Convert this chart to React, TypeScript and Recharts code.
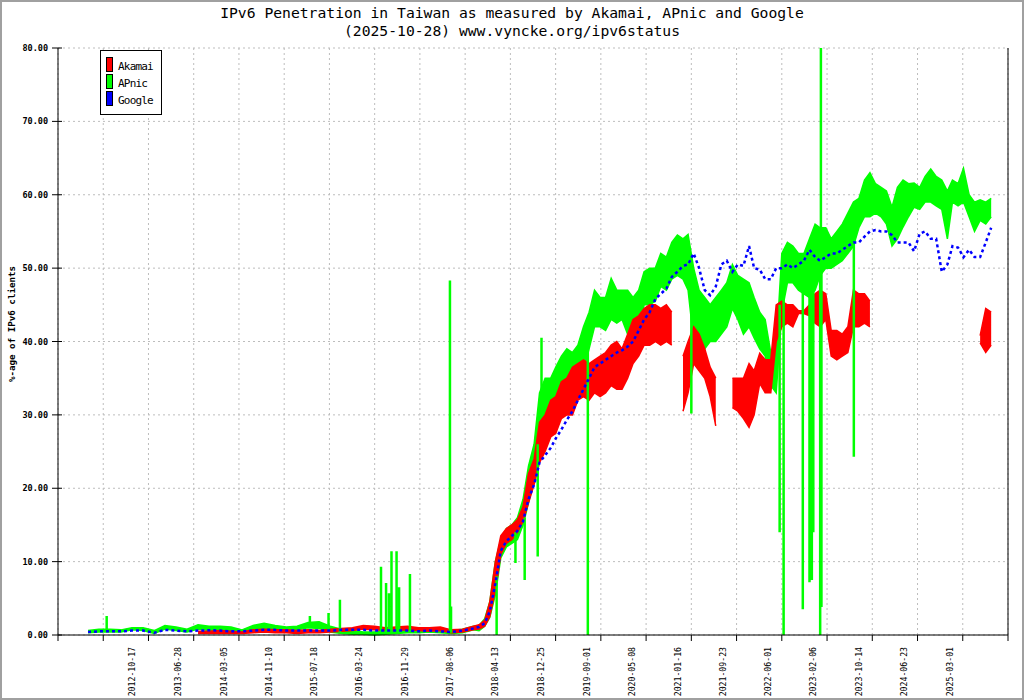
import React from "react";
import { Area, CartesianGrid, ComposedChart, Line, ReferenceLine, XAxis, YAxis } from "recharts";

// sample dates: every 2 months until 2017, monthly afterwards
const months = [
  "2012-02", "2012-04", "2012-06", "2012-08", "2012-10", "2012-12",
  "2013-02", "2013-04", "2013-06", "2013-08", "2013-10", "2013-12",
  "2014-02", "2014-04", "2014-06", "2014-08", "2014-10", "2014-12",
  "2015-02", "2015-04", "2015-06", "2015-08", "2015-10", "2015-12",
  "2016-02", "2016-04", "2016-06", "2016-08", "2016-10", "2016-12",
  "2017-02", "2017-04", "2017-06", "2017-08", "2017-10", "2017-12",
  "2018-01", "2018-02", "2018-03", "2018-04", "2018-05", "2018-06", "2018-07", "2018-08", "2018-09", "2018-10", "2018-11", "2018-12",
  "2019-01", "2019-02", "2019-03", "2019-04", "2019-05", "2019-06", "2019-07", "2019-08", "2019-09", "2019-10", "2019-11", "2019-12",
  "2020-01", "2020-02", "2020-03", "2020-04", "2020-05", "2020-06", "2020-07", "2020-08", "2020-09", "2020-10", "2020-11", "2020-12",
  "2021-01", "2021-02", "2021-03", "2021-04", "2021-05", "2021-06", "2021-07", "2021-08", "2021-09", "2021-10", "2021-11", "2021-12",
  "2022-01", "2022-02", "2022-03", "2022-04", "2022-05", "2022-06", "2022-07", "2022-08", "2022-09", "2022-10", "2022-11", "2022-12",
  "2023-01", "2023-02", "2023-03", "2023-04", "2023-05", "2023-06", "2023-07", "2023-08", "2023-09", "2023-10", "2023-11", "2023-12",
  "2024-01", "2024-02", "2024-03", "2024-04", "2024-05", "2024-06", "2024-07", "2024-08", "2024-09", "2024-10", "2024-11", "2024-12",
  "2025-01", "2025-02", "2025-03", "2025-04", "2025-05", "2025-06", "2025-07", "2025-08", "2025-09", "2025-10",
];

// APnic daily values swing a lot, so keep the low / high of each period
const apnicLow = [
  0.3, 0.4, 0.4, 0.4, 0.7, 0.6, 0.2, 0.8, 0.6, 0.4, 0.8, 0.6,
  0.7, 0.5, 0.3, 0.7, 0.9, 0.8, 0.6, 0.7, 1.0, 0.9, 0.4, 0.2,
  0.1, 0.1, 0.0, 0.1, 0.2, 0.3, 0.3, 0.4, 0.3, 0.2, 0.3, 0.7,
  0.6, 1.2, 2.4, 5.5, 10.5, 12, 12.5, 13, 15, 18, 21, 24,
  26, 28, 28, 31, 31, 32, 33, 36, 39, 42, 42, 41.5,
  43, 42.5, 43, 41, 40.5, 41, 45, 45, 45.5, 47.5, 47, 48.5,
  49, 48.5, 47, 40, 36, 39, 40, 40, 41, 42, 44.5, 43,
  41, 42, 40.5, 39, 38, 34, 33, 44, 48, 48, 47, 46.5,
  46, 47, 49, 50, 50, 50.5, 51, 52, 53, 55.5, 57, 57,
  57.5, 57, 56, 53, 54, 55.6, 57, 58.3, 58, 59, 59, 58.5,
  58, 54, 59, 58.5, 59, 57, 55, 56.5, 56, 57,
];
const apnicHigh = [
  0.6, 0.8, 0.8, 0.7, 1.0, 1.0, 0.6, 1.3, 1.1, 0.8, 1.4, 1.2,
  1.2, 1.1, 0.7, 1.3, 1.6, 1.3, 1.1, 1.2, 1.7, 1.8, 1.2, 0.8,
  0.6, 0.4, 0.4, 0.6, 0.7, 0.9, 0.8, 0.9, 0.8, 0.6, 0.8, 1.2,
  1.3, 2.2, 4.5, 10, 13, 14.5, 15, 16, 18.5, 23, 26, 33,
  35, 35, 36.5, 38, 39, 38.5, 39.5, 42, 44, 47, 46, 46,
  48.6, 47, 47, 47, 46, 47, 49.5, 50, 50, 52, 51.5, 53.5,
  54.5, 54, 54.6, 50, 47, 46, 45, 46, 47, 48, 50.5, 49,
  48.5, 48, 46, 44, 43, 38.5, 39, 52, 53.5, 53, 52, 52,
  54, 56, 55.5, 55.5, 54, 55, 56, 57.5, 59, 59.5, 62, 63,
  61.5, 61, 60.5, 58.3, 61, 62, 61.5, 61.6, 61, 62.5, 63.5, 62.5,
  62, 60.5, 62, 61.5, 63.6, 60, 59, 59.3, 59, 59.5,
];

const akamaiLow = [
  null, null, null, null, null, null, null, null, null, null, 0.2, 0.2,
  0.2, 0.2, 0.2, 0.3, 0.4, 0.3, 0.3, 0.2, 0.3, 0.3, 0.4, 0.5,
  0.6, 0.8, 0.7, 0.6, 0.6, 0.7, 0.6, 0.5, 0.6, 0.3, 0.4, 0.7,
  0.8, 1.2, 2.5, 6, 11, 12.5, 13, 14, 15.5, 18, 20.5, 23.5,
  25, 27, 27.5, 29.5, 30, 30, 32, 32.5, 32, 33, 32.5, 33,
  34, 33.5, 33.5, 35, 37, 38, 39.5, 39.5, 40, 39.5, 40, 39.5,
  null, 30.5, 33, 37, 36, 35, 32.5, 28.5, null, null, 31, 30.5,
  29.5, 28.3, 30, 34.3, 33, 33, 40, 42, 42.5, 42, 43.8, 43.8,
  43.5, 42.5, 42, 43, 38, 37.5, 38, 38.5, 42, 42, 42.5, 42,
  null, null, null, null, null, null, null, null, null, null, null, null,
  null, null, null, null, null, null, null, 39.8, 38.5, 39.5,
];
const akamaiHigh = [
  null, null, null, null, null, null, null, null, null, null, 0.5, 0.5,
  0.6, 0.5, 0.4, 0.7, 0.8, 0.7, 0.7, 0.6, 0.7, 0.6, 0.8, 0.9,
  1.0, 1.3, 1.2, 1.0, 1.1, 1.2, 1.0, 1.0, 1.1, 0.7, 0.8, 1.2,
  1.4, 2.0, 4.5, 10, 13.5, 14.5, 15, 15.7, 17.5, 22, 24, 29,
  30, 32, 32.5, 34.5, 35, 36.5, 37, 37.5, 37, 37.5, 38, 38.5,
  39.5, 40, 39, 41, 43, 43.5, 44.5, 45, 45, 44.5, 45, 44,
  null, 38, 40, 42, 41, 39, 36.5, 35, null, null, 35, 35,
  35, 37, 36, 38.4, 37.5, 37.5, 45, 45.5, 45, 45, 44.2, 44.2,
  45, 46.5, 47, 46.5, 41.5, 41.5, 41, 42, 47, 46.5, 46.5, 45.5,
  null, null, null, null, null, null, null, null, null, null, null, null,
  null, null, null, null, null, null, null, 40.8, 44.5, 44,
];

const google = [
  0.4, 0.5, 0.5, 0.5, 0.6, 0.6, 0.3, 0.7, 0.6, 0.5, 0.6, 0.65,
  0.6, 0.5, 0.5, 0.6, 0.7, 0.7, 0.6, 0.6, 0.6, 0.6, 0.6, 0.7,
  0.7, 0.7, 0.6, 0.6, 0.6, 0.6, 0.5, 0.6, 0.5, 0.4, 0.6, 0.9,
  1.1, 1.6, 3.2, 7, 11.5, 12.8, 13.5, 14.2, 15.5, 18.5, 20.5, 23.5,
  24.5, 25.5, 26.8, 28, 29.3, 30.5, 32, 33.5, 35, 36.5, 37, 37.5,
  38, 38.5, 38.8, 39.3, 40, 41.5, 43, 44, 45.8, 46.5, 47.2, 48.8,
  49.5, 50.3, 50.5, 52, 50, 47, 46.3, 47.5, 50.5, 51, 49.5, 50.5,
  50.3, 53, 50, 49.8, 48.5, 48.5, 50, 50, 50.5, 50, 50.5, 51,
  52.5, 51.5, 51, 51.5, 52, 52, 52.5, 53, 53.5, 53.5, 54.3, 55,
  55.2, 55, 55, 54.5, 53.5, 53.5, 53.5, 52.3, 54.7, 55, 54, 54,
  49.5, 50.5, 53, 52.8, 51.5, 52.5, 51.5, 51.5, 53.5, 55.5,
];

// single-day APnic outliers: level before the jump, value reached
const spikeDates = [
  "2012-05-28", "2015-06-25", "2015-10-06", "2015-12-08", "2016-07-22", "2016-08-19",
  "2016-09-04", "2016-09-18", "2016-10-16", "2016-10-30", "2016-12-29", "2017-08-07",
  "2017-08-13", "2018-04-22", "2018-08-04", "2018-09-24", "2018-12-05", "2018-12-26",
  "2019-09-08", "2021-04-02", "2022-08-03", "2022-08-25", "2022-12-09", "2023-01-15",
  "2023-01-28", "2023-02-05", "2023-03-15", "2023-03-19", "2023-03-22", "2023-09-17",
];
const spikeFrom = [
  0.6, 1.2, 0.6, 0.4, 0.2, 0.2, 0.2, 0.2, 0.2, 0.2, 0.3, 0.3,
  0.3, 0, 14, 16, 26, 30, 0, 45, 45, 0, 49, 48,
  50, 50, 0, 26, 3.8, 55,
];
const spikeTo = [
  2.6, 2.6, 3.0, 4.8, 9.3, 7.1, 5.7, 11.4, 11.4, 6.5, 8.3, 48.3,
  3.9, 8, 9.8, 7.5, 10.7, 40.5, 40, 30.2, 14, 48, 3.5, 7.2,
  7.5, 14, 52, 80, 50, 24.3,
];

const tickDates = [
  "2012-10-17", "2013-06-28", "2014-03-05", "2014-11-10", "2015-07-18", "2016-03-24",
  "2016-11-29", "2017-08-06", "2018-04-13", "2018-12-25", "2019-09-01", "2020-05-08",
  "2021-01-16", "2021-09-23", "2022-06-01", "2023-02-06", "2023-10-14", "2024-06-23",
  "2025-03-01",
];
const yTicks = [0, 10, 20, 30, 40, 50, 60, 70, 80];

const legendNames = ["Akamai", "APnic", "Google"];
const legendColors = ["#ff0000", "#00ff00", "#0000ff"];

const MONO = "'DejaVu Sans Mono', 'Liberation Mono', monospace";
const PLOT_LEFT = 58;
const PLOT_BOTTOM = 635;

const EPOCH = Date.UTC(2011, 0, 1);
const dayNum = (s: string) => {
  const [y, m, d] = s.split("-").map(Number);
  return (Date.UTC(y, m - 1, d || 15) - EPOCH) / 864e5;
};
const dayLabel = (v: number) => new Date(EPOCH + v * 864e5).toISOString().slice(0, 10);

// axis runs in 250-day steps
const X_MIN = 244;
const gridTicks = Array.from({ length: 22 }, (_, k) => X_MIN + 250 * k);
const X_MAX = gridTicks[gridTicks.length - 1];

const rows = months.map((m, i) => ({
  day: dayNum(m),
  apnic: [apnicLow[i], apnicHigh[i]],
  akamai: akamaiLow[i] == null ? [null, null] : [akamaiLow[i], akamaiHigh[i]],
  google: google[i],
}));

const spikeRows = spikeDates.flatMap((s, i) => {
  const d = dayNum(s);
  return [
    { day: d, v: spikeFrom[i] },
    { day: d, v: spikeTo[i] },
    { day: d + 0.01, v: null },
  ];
});

function YTick({ y, payload }: any) {
  return (
    <g>
      <line x1={PLOT_LEFT - 6} x2={PLOT_LEFT + 4} y1={y} y2={y} stroke="#000" />
      <text
        x={PLOT_LEFT - 10}
        y={y}
        textAnchor="end"
        dominantBaseline="central"
        fontFamily={MONO}
        fontSize={8.5}
        fontWeight="bold"
        fill="#000"
      >
        {payload.value.toFixed(2)}
      </text>
    </g>
  );
}

function GridTick({ x }: any) {
  return <line x1={x} x2={x} y1={PLOT_BOTTOM} y2={PLOT_BOTTOM + 6} stroke="#000" />;
}

function DateTick({ x, payload }: any) {
  const y = 647;
  return (
    <text
      x={x}
      y={y}
      transform={`rotate(-90 ${x} ${y})`}
      textAnchor="end"
      dominantBaseline="central"
      fontFamily={MONO}
      fontSize={8.2}
      fill="#000"
    >
      {dayLabel(payload.value)}
    </text>
  );
}

export default function App() {
  return (
    <div style={{ position: "relative", width: 1024, height: 700, background: "#fff" }}>
      <style>{"body{margin:0}"}</style>
      <ComposedChart
        width={1024}
        height={700}
        data={rows}
        margin={{ top: 48, right: 16, bottom: 0, left: 0 }}
      >
        <CartesianGrid stroke="#bdbdbd" strokeDasharray="2 3" />
        <XAxis
          dataKey="day"
          type="number"
          domain={[X_MIN, X_MAX]}
          ticks={gridTicks}
          interval={0}
          height={5}
          axisLine={{ stroke: "#000" }}
          tickLine={false}
          tick={<GridTick />}
        />
        <XAxis
          xAxisId="lab"
          dataKey="day"
          type="number"
          domain={[X_MIN, X_MAX]}
          ticks={tickDates.map(dayNum)}
          interval={0}
          height={60}
          axisLine={false}
          tickLine={false}
          tick={<DateTick />}
        />
        <YAxis
          type="number"
          domain={[0, 80]}
          ticks={yTicks}
          interval={0}
          width={PLOT_LEFT}
          axisLine={{ stroke: "#000" }}
          tickLine={false}
          tick={<YTick />}
        />
        <ReferenceLine x={X_MAX} stroke="#000" />
        <Area
          type="linear"
          dataKey="apnic"
          stroke="#00ff00"
          strokeWidth={1.5}
          fill="#00ff00"
          fillOpacity={1}
          dot={false}
          activeDot={false}
          isAnimationActive={false}
        />
        <Area
          type="linear"
          dataKey="akamai"
          stroke="#ff0000"
          strokeWidth={1.5}
          fill="#ff0000"
          fillOpacity={1}
          dot={false}
          activeDot={false}
          isAnimationActive={false}
        />
        <Line
          data={spikeRows}
          type="linear"
          dataKey="v"
          stroke="#00ff00"
          strokeWidth={2.5}
          dot={false}
          activeDot={false}
          isAnimationActive={false}
        />
        <Line
          type="linear"
          dataKey="google"
          stroke="#0000ff"
          strokeWidth={2.5}
          strokeDasharray="3 3"
          dot={false}
          activeDot={false}
          isAnimationActive={false}
        />
      </ComposedChart>
      <svg
        width={1024}
        height={700}
        style={{ position: "absolute", left: 0, top: 0, pointerEvents: "none" }}
        fontFamily={MONO}
      >
        <rect x={1} y={1} width={1022} height={698} fill="none" stroke="#a0a0a0" strokeWidth={2} />
        <text x={512} y={17.5} textAnchor="middle" fontSize={14.7} fill="#000">
          IPv6 Penetration in Taiwan as measured by Akamai, APnic and Google
        </text>
        <text x={512} y={35.5} textAnchor="middle" fontSize={14.7} fill="#000">
          (2025-10-28) www.vyncke.org/ipv6status
        </text>
        <text
          x={11.5}
          y={324}
          transform="rotate(-90 11.5 324)"
          textAnchor="middle"
          dominantBaseline="central"
          fontSize={9.2}
          fontWeight="bold"
          fill="#000"
        >
          %-age of IPv6 clients
        </text>
        <rect x={100.5} y={50.5} width={61} height={64} fill="#fff" stroke="#000" />
        {legendNames.map((name, i) => (
          <g key={name}>
            <rect x={106.5} y={57.5 + 17 * i} width={6} height={14} fill={legendColors[i]} stroke="#000" />
            <text x={118} y={70 + 17 * i} fontSize={11} letterSpacing={-0.8} fill="#000">
              {name}
            </text>
          </g>
        ))}
      </svg>
    </div>
  );
}
